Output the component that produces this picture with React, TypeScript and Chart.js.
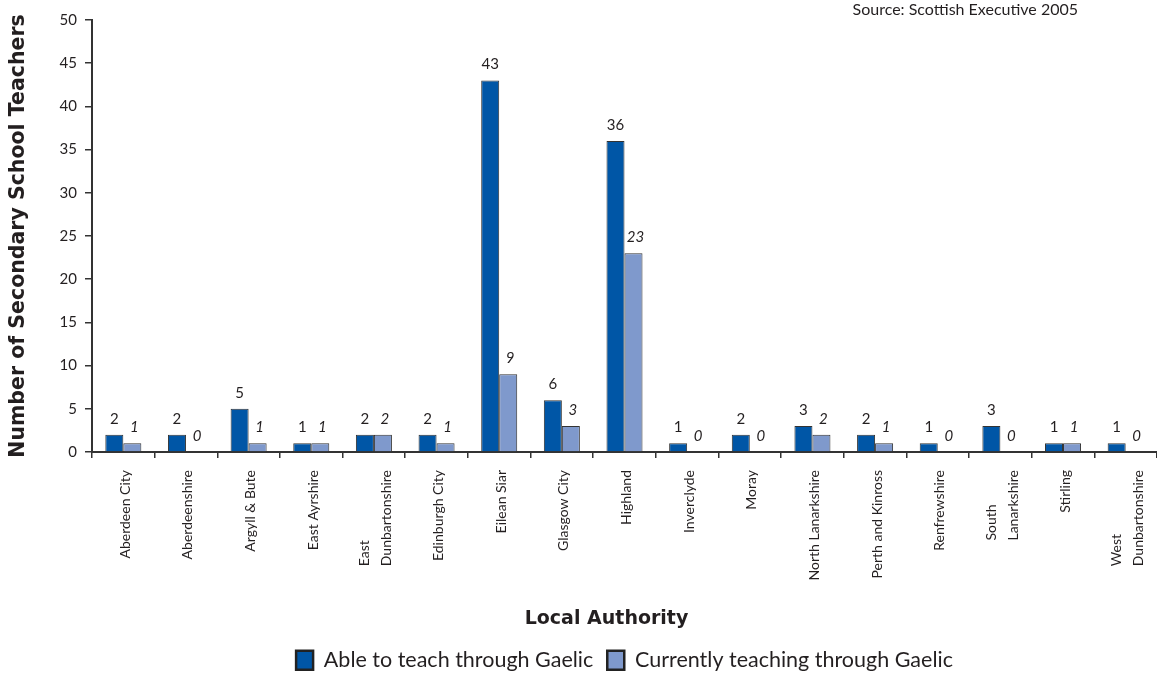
import { useEffect, useRef } from "react";
import { Chart, registerables } from "chart.js";

Chart.register(...registerables);

const categories: string[][] = [
  ["Aberdeen City"],
  ["Aberdeenshire"],
  ["Argyll & Bute"],
  ["East Ayrshire"],
  ["East", "Dunbartonshire"],
  ["Edinburgh City"],
  ["Eilean Siar"],
  ["Glasgow City"],
  ["Highland"],
  ["Inverclyde"],
  ["Moray"],
  ["North Lanarkshire"],
  ["Perth and Kinross"],
  ["Renfrewshire"],
  ["South", "Lanarkshire"],
  ["Stirling"],
  ["West", "Dunbartonshire"],
];

const ableToTeach = [2, 2, 5, 1, 2, 2, 43, 6, 36, 1, 2, 3, 2, 1, 3, 1, 1];
const currentlyTeaching = [1, 0, 1, 1, 2, 1, 9, 3, 23, 0, 0, 2, 1, 0, 0, 1, 0];

const seriesNames = ["Able to teach through Gaelic", "Currently teaching through Gaelic"];
const yAxisTitle = "Number of Secondary School Teachers";
const xAxisTitle = "Local Authority";
const sourceNote = "Source: Scottish Executive 2005";
const yMin = 0;
const yMax = 50;
const yStep = 5;

const TEXT = "#231f20";
const DARK_BLUE = "#0056a6";
const LIGHT_BLUE = "#7f99cc";
const EDGE = "#333333";
const FONT = "Lato, 'Open Sans', sans-serif";
const BOLD_FONT = "'DejaVu Sans', sans-serif";

const valueLabelPlugin = {
  id: "valueLabels",
  afterDatasetsDraw(chart: any) {
    const ctx = chart.ctx;
    ctx.save();
    ctx.textAlign = "center";
    ctx.textBaseline = "middle";
    ctx.fillStyle = TEXT;
    chart.data.datasets.forEach((ds: any, di: number) => {
      const meta = chart.getDatasetMeta(di);
      ctx.font = (di === 1 ? "italic " : "") + "15px " + FONT;
      meta.data.forEach((bar: any, i: number) => {
        const { x, y } = bar.getProps(["x", "y"], true);
        ctx.fillText(String(ds.data[i]), x + (di === 1 ? 2 : 0), y - 16);
      });
    });
    ctx.restore();
  },
};

const axisTextPlugin = {
  id: "axisText",
  afterDraw(chart: any) {
    const ctx = chart.ctx;
    const xs = chart.scales.x;
    const area = chart.chartArea;
    ctx.save();
    ctx.fillStyle = TEXT;
    ctx.font = "14px " + FONT;
    const topY = area.bottom + 18;
    const lineGap = 22;
    chart.data.labels.forEach((lab: any, i: number) => {
      const lines: string[] = Array.isArray(lab) ? lab : [lab];
      const cx = xs.getPixelForValue(i);
      const maxW = Math.max(...lines.map((l) => ctx.measureText(l).width));
      ctx.save();
      ctx.translate(cx, topY + maxW);
      ctx.rotate(-Math.PI / 2);
      ctx.textAlign = "left";
      ctx.textBaseline = "middle";
      lines.forEach((l, k) => {
        const off = (k - (lines.length - 1) / 2) * lineGap;
        ctx.fillText(l, 0, off + 2);
      });
      ctx.restore();
    });
    ctx.font = "bold 19px " + BOLD_FONT;
    ctx.textAlign = "center";
    ctx.textBaseline = "middle";
    ctx.fillText(xAxisTitle, (area.left + area.right) / 2 - 18, 619);
    ctx.font = "16px " + FONT;
    ctx.textAlign = "right";
    ctx.fillText(sourceNote, 1078, 10);
    ctx.restore();
  },
};

export default function App() {
  const canvasRef = useRef<HTMLCanvasElement | null>(null);

  useEffect(() => {
    if (!canvasRef.current) return;
    const chart = new Chart(canvasRef.current, {
      type: "bar",
      data: {
        labels: categories,
        datasets: [
          {
            label: seriesNames[0],
            data: ableToTeach,
            backgroundColor: DARK_BLUE,
            borderColor: EDGE,
            borderWidth: 1,
            categoryPercentage: 0.575,
            barPercentage: 1,
          },
          {
            label: seriesNames[1],
            data: currentlyTeaching,
            backgroundColor: LIGHT_BLUE,
            borderColor: EDGE,
            borderWidth: 1,
            categoryPercentage: 0.575,
            barPercentage: 1,
          },
        ],
      },
      options: {
        responsive: false,
        animation: false,
        layout: { padding: { top: 20, right: 0, bottom: 0, left: 0 } },
        plugins: {
          tooltip: { enabled: false },
          legend: {
            position: "bottom",
            fullSize: false,
            labels: {
              boxWidth: 17,
              boxHeight: 19,
              padding: 14,
              color: TEXT,
              font: { family: FONT, size: 21.5 },
              generateLabels(chart: any) {
                const items = Chart.defaults.plugins.legend.labels.generateLabels(chart);
                items.forEach((it: any) => {
                  it.lineWidth = 2.5;
                  it.strokeStyle = "#222";
                });
                return items;
              },
            },
          },
        },
        scales: {
          x: {
            offset: true,
            ticks: { display: false },
            grid: {
              display: true,
              offset: true,
              drawOnChartArea: false,
              drawTicks: true,
              tickLength: 6,
              color: EDGE,
              lineWidth: 1.5,
            },
            border: { display: true, color: EDGE, width: 2 },
            afterFit(scale: any) {
              scale.height = 183.5;
            },
          },
          y: {
            min: yMin,
            max: yMax,
            ticks: {
              stepSize: yStep,
              color: TEXT,
              padding: 8,
              font: { family: FONT, size: 15 },
            },
            grid: {
              display: true,
              drawOnChartArea: false,
              drawTicks: true,
              tickLength: 7,
              color: EDGE,
              lineWidth: 1.5,
            },
            border: { display: true, color: EDGE, width: 2 },
            title: {
              display: true,
              text: yAxisTitle,
              color: TEXT,
              font: { family: BOLD_FONT, size: 20.5, weight: "bold" },
              padding: { top: 6, bottom: 0 },
            },
            afterFit(scale: any) {
              scale.width = 92;
            },
          },
        },
      },
      plugins: [valueLabelPlugin, axisTextPlugin],
    } as any);
    return () => chart.destroy();
  }, []);

  return (
    <div
      style={{
        position: "fixed",
        left: 0,
        top: 0,
        width: 1157,
        height: 673,
        overflow: "hidden",
        background: "#fff",
      }}
    >
      <canvas ref={canvasRef} width={1157} height={681} style={{ display: "block" }} />
    </div>
  );
}
